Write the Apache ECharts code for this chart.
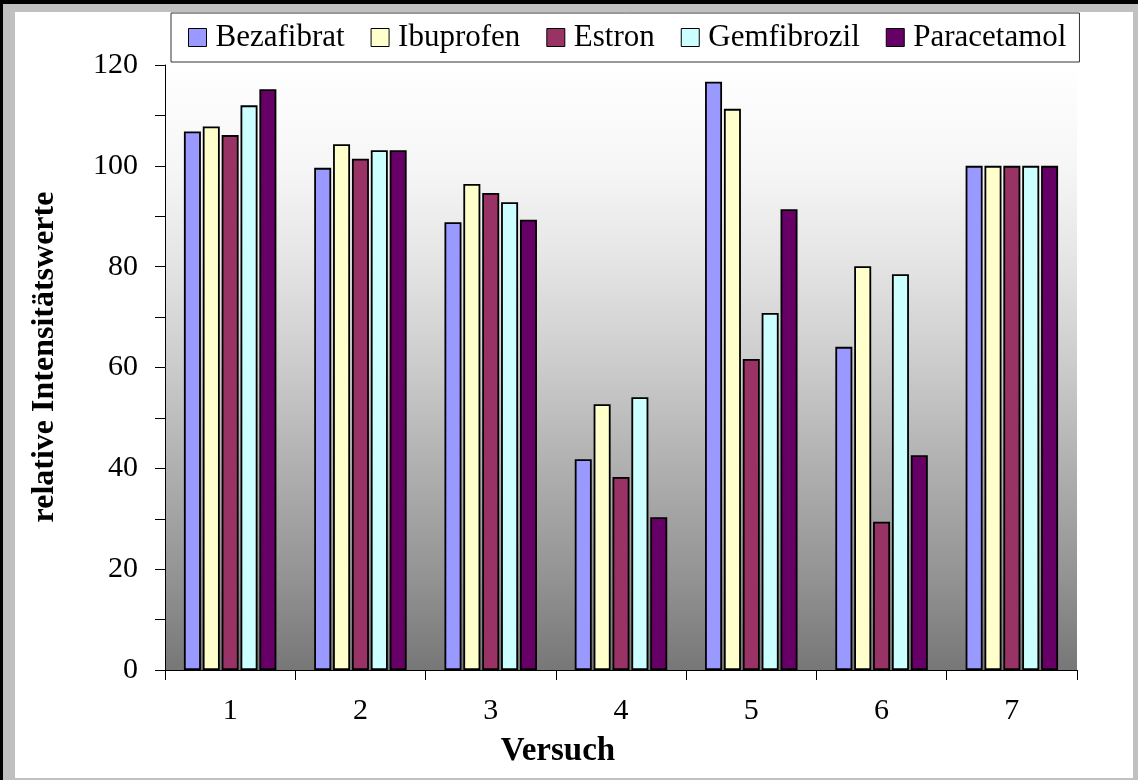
<!DOCTYPE html>
<html>
<head>
<meta charset="utf-8">
<title>relative Intensitätswerte</title>
<script src="https://cdn.jsdelivr.net/npm/echarts@6/dist/echarts.min.js"></script>
<style>
  html, body { margin: 0; padding: 0; width: 1138px; height: 780px; overflow: hidden; }
  #frame { position: absolute; left: 0; top: 0; width: 1138px; height: 780px; box-sizing: border-box;
           background: #c0c0c0; border-top: 4px solid #000; border-left: 3px solid #000; }
  #sheet { position: absolute; left: 15px; top: 12px; width: 1118px; height: 766px; background: #fff; }
  #chart { position: absolute; left: 0; top: 0; width: 1138px; height: 780px; }
</style>
</head>
<body>
<div id="frame"></div>
<div id="sheet"></div>
<div id="chart"></div>
<script>
// Versuche (x categories)
const versuche = ['1', '2', '3', '4', '5', '6', '7'];

// relative intensity per substance and Versuch
const bezafibrat  = [106.8,  99.6, 88.8, 41.8, 116.7, 64.1, 100];
const ibuprofen   = [107.8, 104.3, 96.4, 52.7, 111.3, 80.1, 100];
const estron      = [106.1, 101.4, 94.6, 38.3,  61.7, 29.4, 100];
const gemfibrozil = [112.0, 103.1, 92.8, 54.1,  70.8, 78.5, 100];
const paracetamol = [115.2, 103.1, 89.3, 30.3,  91.4, 42.6, 100];

const seriesNames = ['Bezafibrat', 'Ibuprofen', 'Estron', 'Gemfibrozil', 'Paracetamol'];
const seriesData = [bezafibrat, ibuprofen, estron, gemfibrozil, paracetamol];
const seriesColors = ['#9999ff', '#ffffcc', '#993366', '#ccffff', '#660066'];

const serif = '"Liberation Serif", "Times New Roman", serif';

const chart = echarts.init(document.getElementById('chart'), null, { renderer: 'canvas' });

chart.setOption({
  backgroundColor: 'transparent',
  animation: false,
  textStyle: { fontFamily: serif, color: '#000' },
  grid: { left: 165, right: 61, top: 65, bottom: 110, containLabel: false },
  legend: {
    data: seriesNames,
    left: 171,
    top: 13,
    orient: 'horizontal',
    icon: 'rect',
    itemWidth: 18,
    itemHeight: 18,
    itemGap: 26,
    padding: [9, 13, 9, 17],
    backgroundColor: '#fff',
    borderColor: '#333',
    borderWidth: 1,
    borderRadius: 0,
    itemStyle: { borderColor: '#000', borderWidth: 1 },
    textStyle: { fontFamily: serif, fontSize: 31, color: '#000', lineHeight: 29, padding: [0, 0, 0, 4] }
  },
  xAxis: {
    type: 'category',
    data: versuche,
    boundaryGap: true,
    axisLine: { show: true, lineStyle: { color: '#000', width: 1 } },
    axisTick: { show: true, alignWithLabel: false, length: 10, lineStyle: { color: '#000' } },
    axisLabel: { fontFamily: serif, fontSize: 30, color: '#000', margin: 26 },
    splitLine: { show: false }
  },
  yAxis: {
    type: 'value',
    min: 0,
    max: 120,
    interval: 10,
    axisLine: { show: true, lineStyle: { color: '#000', width: 1 } },
    axisTick: { show: true, inside: false, length: 10, lineStyle: { color: '#000' } },
    axisLabel: {
      fontFamily: serif, fontSize: 30, color: '#000', margin: 27,
      padding: [7, 0, 0, 0],
      formatter: v => (v % 20 === 0 ? String(v) : '')
    },
    splitLine: { show: false }
  },
  series: seriesNames.map((name, i) => ({
    name: name,
    type: 'bar',
    data: seriesData[i],
    barWidth: 17,
    barGap: '11%',
    itemStyle: { color: seriesColors[i], borderColor: '#000', borderWidth: 1.8 },
    emphasis: { disabled: true }
  }))
});

// axis titles and the gradient plot background (white fading to grey at the baseline)
const yBase = chart.convertToPixel({ yAxisIndex: 0 }, 0);
const yTop = chart.convertToPixel({ yAxisIndex: 0 }, 120);
const xLeft = 165, xRight = 1138 - 61;

chart.setOption({
  graphic: [
    {
      id: 'plotBg',
      type: 'rect',
      z: -10,
      silent: true,
      shape: { x: xLeft, y: yTop, width: xRight - xLeft, height: yBase - yTop },
      style: {
        fill: new echarts.graphic.LinearGradient(0, 0, 0, 1, [
          { offset: 0.0, color: '#ffffff' },
          { offset: 0.17, color: '#f6f6f6' },
          { offset: 0.33, color: '#e4e4e4' },
          { offset: 0.5, color: '#cbcbcb' },
          { offset: 0.67, color: '#afafaf' },
          { offset: 0.84, color: '#949494' },
          { offset: 1.0, color: '#777777' }
        ])
      }
    },
    {
      id: 'yTitle',
      type: 'text',
      x: 45,
      y: 357,
      rotation: Math.PI / 2,
      style: {
        text: 'relative Intensitätswerte',
        fontFamily: serif,
        fontSize: 32,
        fontWeight: 'bold',
        fill: '#000',
        align: 'center',
        verticalAlign: 'middle'
      }
    },
    {
      id: 'xTitle',
      type: 'text',
      x: 558,
      y: 751,
      style: {
        text: 'Versuch',
        fontFamily: serif,
        fontSize: 33,
        fontWeight: 'bold',
        fill: '#000',
        align: 'center',
        verticalAlign: 'middle'
      }
    }
  ]
});
</script>
</body>
</html>
